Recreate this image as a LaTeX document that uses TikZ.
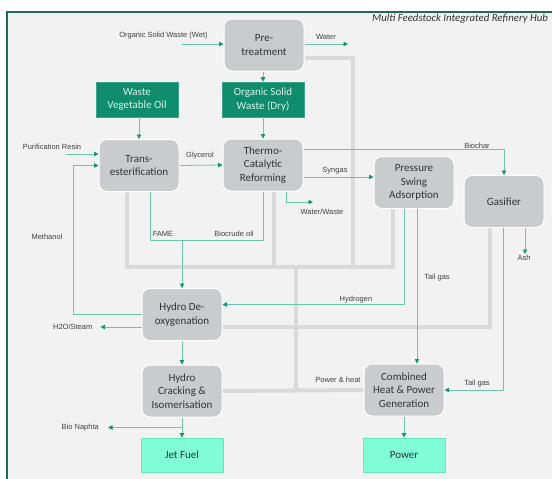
\documentclass[tikz,border=0pt]{standalone}
\usepackage{fontspec}
\setmainfont{Carlito}
\newfontfamily\lblfont{Liberation Sans}
\usetikzlibrary{calc,arrows.meta,backgrounds}
\pgfdeclarelayer{background}
\pgfdeclarelayer{foreground}
\pgfsetlayers{background,main,foreground}
\definecolor{frameteal}{HTML}{1E6B58}
\definecolor{bggray}{HTML}{F2F2F2}
\definecolor{procgray}{HTML}{C9CCCC}
\definecolor{feedgreen}{HTML}{0E8C6C}
\definecolor{feedtext}{HTML}{D8F3E8}
\definecolor{prodfill}{HTML}{80FDD6}
\definecolor{proddraw}{HTML}{66E6C0}
\definecolor{flowline}{HTML}{6CC6AE}
\definecolor{arrowgreen}{HTML}{169472}
\definecolor{pipegray}{HTML}{DADADA}
\definecolor{textdark}{HTML}{333333}
\definecolor{lbltext}{HTML}{404040}
\newcommand{\BoxW}{80pt}
\newcommand{\boxfont}{\fontsize{11}{13.3}\selectfont}
\tikzset{Process/.style={
    rounded corners=8pt,
    inner sep=1pt,
    minimum width=\BoxW,
    minimum height=52pt,
    draw=white, line width=1pt,
    fill=procgray,
    text=textdark,
    font=\boxfont,
    align=center,
    },
  Feed/.style={
    inner sep=1pt,
    minimum width=82pt,
    minimum height=35pt,
    draw=feedgreen!80!white, line width=0.6pt,
    fill=feedgreen,
    text=feedtext,
    font=\boxfont,
    align=center,
    },
  Product/.style={
    inner sep=1pt,
    minimum width=82pt,
    minimum height=34pt,
    draw=proddraw, line width=0.8pt,
    fill=prodfill,
    text=textdark,
    font=\boxfont,
    align=center,
    }
}

\begin{document}
\begin{tikzpicture}[x=1pt, y=-1pt,
    lbl/.style={font=\lblfont\fontsize{7.5}{9}\selectfont, text=lbltext, inner sep=1pt},
    flow/.style={draw=flowline, line width=0.8pt,
        -{Triangle[length=4.5pt,width=4.5pt,color=arrowgreen]}},
    link/.style={draw=flowline, line width=0.8pt},
    pipe/.style={draw=pipegray, line width=4pt},
]
\useasboundingbox (0,0) rectangle (552,479);
% process units
\node [Process] (pre) at (264,45) {Pre-\\treatment};
\node [Feed] (wvo) at (137,99.5) {Waste\\Vegetable Oil};
\node [Feed] (osw) at (263,99.5) {Organic Solid\\Waste (Dry)};
\node [Process] (trans) at (139,165.5) {Trans-\\esterification};
\node [Process] (tcr) at (263,165) {Thermo-\\Catalytic\\Reforming};
\node [Process] (psa) at (414,182.5) {Pressure\\Swing\\Adsorption};
\node [Process] (gas) at (504,201.5) {Gasifier};
\node [Process] (hdo) at (182,314.5) {Hydro De-\\oxygenation};
\node [Process] (hci) at (182,391) {Hydro\\Cracking \&\\Isomerisation};
\node [Process] (chp) at (404,390) {Combined\\Heat \& Power\\Generation};
\node [Product] (jet) at (182,455) {Jet Fuel};
\node [Product] (pow) at (404,455) {Power};
\node [font=\itshape\fontsize{10.8}{12}\selectfont, text=textdark] (title) at (460,19) {Multi Feedstock Integrated Refinery Hub};

% frame and power & heat network
\begin{pgfonlayer}{background}
\draw [frameteal, fill=bggray, line width=1.2pt] (7,12) rectangle (570,500);
\coordinate (bus) at (0,267);
\coordinate (hub) at (296,267);
\draw [pipe] ($(trans.south)+(-12,0)$) |- ($(psa.south |- bus)+(-21,0)$) -- ($(psa.south)+(-21,0)$);
\draw [pipe] ($(tcr.south)+(11,0)$) -- ($(tcr.south |- bus)+(11,0)$);
\draw [pipe] ($(pre.east)+(0,13)$) -| ($(bus)+(353,0)$);
\draw [pipe] (hub) -- (hub |- chp.west);
\draw [pipe] (hci.east) -- (chp.west);
\draw [pipe] ($(hdo.east)+(0,12.5)$) -| ($(gas.south)+(-14,0)$);
\end{pgfonlayer}

% feeds and by-products
\coordinate (wetIn) at (182,44);
\coordinate (waterOut) at (348,44);
\coordinate (resinIn) at (66,154);
\coordinate (fuse) at (182,240);
\coordinate (wwOut) at (313,202);
\draw [flow] (wetIn) -- (wetIn -| pre.west);
\draw [flow] (pre.east |- waterOut) -- (waterOut);
\draw [flow] (pre.south -| osw) -- (osw.north);
\draw [flow] (trans.north |- wvo.south) -- (trans.north);
\draw [flow] (osw.south) -- (tcr.north);
\draw [flow] (resinIn) -- (resinIn -| trans.west);
\draw [flow] (hdo.west) -- ++(-68,0) |- (trans.west);
\draw [flow] ($(hdo.west)+(0,12.5)$) -- ++(-41,0) coordinate (steamOut);
\draw [flow] (trans.east) -- (tcr.west);
\draw [link] ($(trans.south)+(11,0)$) |- (tcr.south |- fuse) -- (tcr.south);
\draw [flow] (fuse) -- (hdo.north);
\draw [flow] ($(tcr.south)+(23,0)$) |- (wwOut);
\draw [flow] ($(tcr.east)+(0,-16)$) -| (gas.north);
\draw [flow] ($(tcr.east)+(0,12)$) coordinate (sg) -- (sg -| psa.west);
\draw [flow] ($(psa.south)+(-10,0)$) |- ($(hdo.east)+(0,-10)$);
\draw [flow] ($(psa.south)+(3,0)$) coordinate (tg) -- (tg |- chp.north);
\draw [flow] ($(gas.south)+(21,0)$) -- ++(0,26);
\draw [flow] ($(gas.south)+(-1,0)$) |- (chp.east);
\draw [flow] (hdo) -- (hci);
\draw [flow] (hci) -- (jet);
\draw [flow] ($(hci.south)+(0,10)$) -- ++(-74,0) coordinate (naphOut);
\draw [flow] (chp) -- (pow);

% labels
\node [lbl] (lWet) at (163.5,36) {Organic Solid Waste (Wet)};
\node [lbl] (lWater) at (326,37) {Water};
\node [lbl] (lResin) at (52,147) {Purification Resin};
\node [lbl] (lGly) at (200,156) {Glycerol};
\node [lbl] (lMeth) at (47,237) {Methanol};
\node [lbl, left=7pt] (lSteam) at (steamOut) {H2O/Steam};
\node [lbl] (lFame) at (163,234) {FAME};
\node [lbl] (lBio) at (234,234) {Biocrude oil};
\node [lbl] (lWW) at (322,212) {Water/Waste};
\node [lbl] (lChar) at (477,146) {Biochar};
\node [lbl] (lSyn) at (335,171) {Syngas};
\node [lbl] (lH2) at (356,300) {Hydrogen};
\node [lbl] (lTail) at (437,278) {Tail gas};
\node [lbl] (lAsh) at (524,258) {Ash};
\node [lbl] (lTail2) at (477,384) {Tail gas};
\node [lbl, left=8pt] (lNaph) at (naphOut) {Bio Naphta};
\node [lbl] (lPH) at (338,380) {Power \& heat};
\end{tikzpicture}
\end{document}
